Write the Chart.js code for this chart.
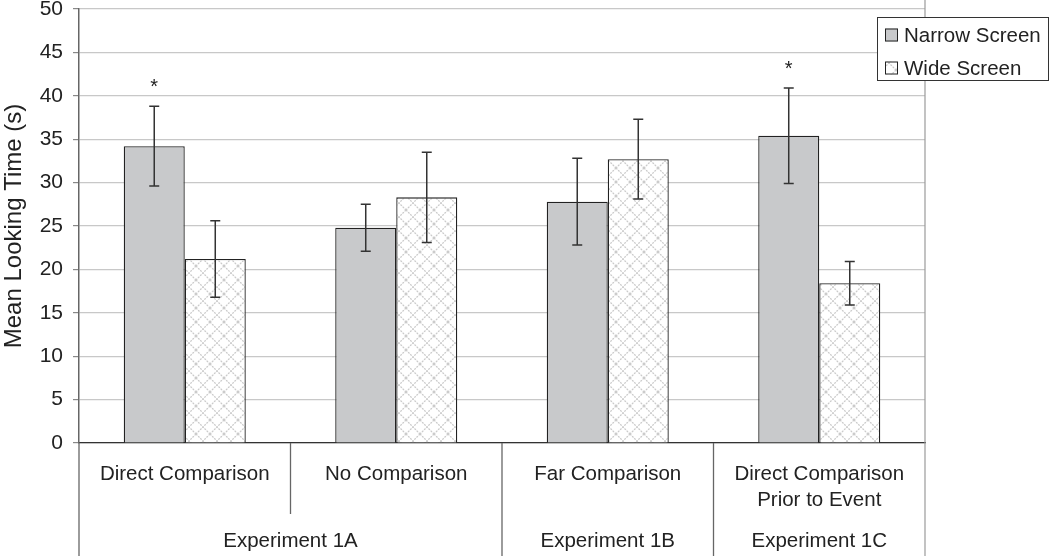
<!DOCTYPE html>
<html><head><meta charset="utf-8">
<script src="https://cdn.jsdelivr.net/npm/chart.js@4.4.1/dist/chart.umd.min.js"></script>
<style>html,body{margin:0;padding:0;background:#fff;}#wrap{width:1050px;height:556px;position:relative;}</style>
</head><body><div id="wrap"><canvas id="c" width="1050" height="556"></canvas></div>
<script>
const categories = [["Direct Comparison"], ["No Comparison"], ["Far Comparison"], ["Direct Comparison", "Prior to Event"]];
const groupLabels = ["Experiment 1A", "Experiment 1B", "Experiment 1C"];
const groupSpans = [2, 1, 1];
const seriesNames = ["Narrow Screen", "Wide Screen"];
const narrowValues = [34.2, 24.8, 27.8, 35.4];
const narrowErrors = [4.6, 2.7, 5.0, 5.5];
const wideValues = [21.2, 28.3, 32.7, 18.4];
const wideErrors = [4.4, 5.2, 4.6, 2.5];
const significant = [true, false, false, true];
const yMin = 0, yMax = 50, yStep = 5;

const FONT = "'Liberation Sans', Arial, sans-serif";
const TXT = '#222';

function makeHatch() {
  const s = 14;
  const c = document.createElement('canvas');
  c.width = s; c.height = s;
  const g = c.getContext('2d');
  g.fillStyle = '#fff'; g.fillRect(0, 0, s, s);
  g.strokeStyle = '#cbcbcb'; g.lineWidth = 1.3;
  g.setLineDash([2, 1]);
  g.beginPath();
  g.moveTo(0, 0); g.lineTo(s, s);
  g.moveTo(s, 0); g.lineTo(0, s);
  g.stroke();
  return g.createPattern(c, 'repeat');
}
const hatch = makeHatch();
const narrowFill = '#c8c9cb';

const errorSets = [narrowErrors, wideErrors];

const overlay = {
  id: 'overlay',
  beforeDatasetsDraw(chart) {
    const ctx = chart.ctx, ca = chart.chartArea;
    ctx.save();
    ctx.strokeStyle = '#9a9a9a'; ctx.lineWidth = 1.2;
    ctx.beginPath(); ctx.moveTo(ca.right, 0); ctx.lineTo(ca.right, 556); ctx.stroke();
    ctx.restore();
  },
  afterDatasetsDraw(chart) {
    const ctx = chart.ctx, ys = chart.scales.y, xs = chart.scales.x, ca = chart.chartArea;
    ctx.save();
    ctx.strokeStyle = '#333'; ctx.lineWidth = 1.5;
    chart.data.datasets.forEach((ds, di) => {
      const meta = chart.getDatasetMeta(di);
      meta.data.forEach((bar, i) => {
        const v = ds.data[i], e = errorSets[di][i];
        const yt = ys.getPixelForValue(v + e), yb = ys.getPixelForValue(v - e);
        ctx.beginPath();
        ctx.moveTo(bar.x, yt); ctx.lineTo(bar.x, yb);
        ctx.moveTo(bar.x - 5, yt); ctx.lineTo(bar.x + 5, yt);
        ctx.moveTo(bar.x - 5, yb); ctx.lineTo(bar.x + 5, yb);
        ctx.stroke();
      });
    });
    ctx.fillStyle = TXT; ctx.font = '20px ' + FONT; ctx.textAlign = 'center'; ctx.textBaseline = 'top';
    const m0 = chart.getDatasetMeta(0);
    significant.forEach((s, i) => {
      if (!s) return;
      const bar = m0.data[i];
      const yt = ys.getPixelForValue(narrowValues[i] + narrowErrors[i]);
      ctx.fillText('*', bar.x, yt - 29);
    });
    const n = categories.length;
    const bnd = [];
    for (let i = 0; i <= n; i++) {
      if (i === 0) bnd.push(ca.left);
      else if (i === n) bnd.push(ca.right);
      else bnd.push((xs.getPixelForValue(i - 1) + xs.getPixelForValue(i)) / 2);
    }
    ctx.strokeStyle = '#666'; ctx.lineWidth = 1.3;
    ctx.beginPath(); ctx.moveTo(ca.left, ca.bottom); ctx.lineTo(ca.left, 556); ctx.stroke();
    let idx = 0;
    const groupEnds = new Set();
    groupSpans.forEach(sp => { idx += sp; groupEnds.add(idx); });
    for (let i = 1; i < n; i++) {
      ctx.beginPath();
      ctx.moveTo(bnd[i], ca.bottom);
      ctx.lineTo(bnd[i], groupEnds.has(i) ? 556 : 514);
      ctx.stroke();
    }
    ctx.font = '20.5px ' + FONT;
    ctx.textBaseline = 'middle';
    let start = 0;
    groupLabels.forEach((g, gi) => {
      const end = start + groupSpans[gi];
      ctx.fillText(g, (bnd[start] + bnd[end]) / 2, 541);
      start = end;
    });
    ctx.restore();
  },
  afterDraw(chart) {
    const ctx = chart.ctx;
    ctx.save();
    ctx.fillStyle = '#fff'; ctx.fillRect(877, 17, 172, 64);
    ctx.strokeStyle = '#333'; ctx.lineWidth = 1;
    ctx.strokeRect(877.5, 17.5, 171, 63);
    const fills = [narrowFill, hatch];
    ctx.font = '20.5px ' + FONT; ctx.textBaseline = 'middle'; ctx.textAlign = 'left';
    seriesNames.forEach((nm, i) => {
      const cy = 35 + i * 33;
      ctx.fillStyle = fills[i]; ctx.fillRect(885, cy - 6.5, 13, 13);
      ctx.strokeStyle = '#222'; ctx.strokeRect(885.5, cy - 6, 12, 12);
      ctx.fillStyle = TXT; ctx.fillText(nm, 904, cy + 1);
    });
    ctx.restore();
  }
};

new Chart(document.getElementById('c'), {
  type: 'bar',
  data: {
    labels: categories,
    datasets: [
      { label: seriesNames[0], data: narrowValues, backgroundColor: narrowFill, borderColor: '#222', borderWidth: 1.3 },
      { label: seriesNames[1], data: wideValues, backgroundColor: hatch, borderColor: '#222', borderWidth: 1.3 }
    ]
  },
  options: {
    responsive: false,
    animation: false,
    devicePixelRatio: 1,
    categoryPercentage: 0.577,
    barPercentage: 1.0,
    layout: { padding: { left: 0, right: 125, top: 9, bottom: 0 } },
    plugins: { legend: { display: false }, tooltip: { enabled: false } },
    scales: {
      x: {
        grid: { display: false, drawTicks: false },
        border: { display: true, color: '#333', width: 1.3 },
        ticks: { color: TXT, font: { family: FONT, size: 20.5, lineHeight: 1.27 }, padding: 18, maxRotation: 0, autoSkip: false },
        afterFit(s) { s.height = 113; s.paddingLeft = 0; s.paddingRight = 0; }
      },
      y: {
        min: yMin, max: yMax,
        ticks: { stepSize: yStep, color: TXT, font: { family: FONT, size: 21 }, padding: 10 },
        grid: { color: '#c8c8c8', lineWidth: 1.2, tickLength: 6, tickColor: '#888' },
        border: { display: true, color: '#666', width: 1.5 },
        title: { display: true, text: 'Mean Looking Time (s)', color: TXT, font: { family: FONT, size: 24 }, padding: { top: 0, bottom: 0 } },
        afterFit(s) { s.width = 79; s.paddingTop = 0; s.paddingBottom = 0; }
      }
    }
  },
  plugins: [overlay]
});
</script></body></html>
